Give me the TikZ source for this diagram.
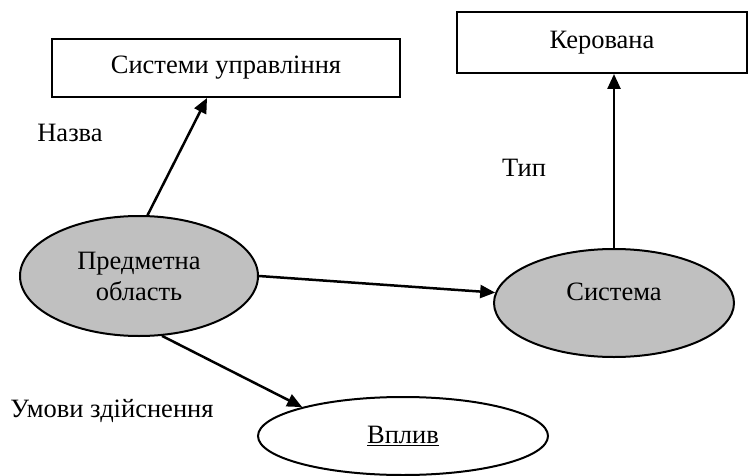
\documentclass[tikz,border=0pt]{standalone}
\usepackage{fontspec}
\setmainfont{Liberation Serif}
\usetikzlibrary{arrows.meta,calc,shapes.geometric}
\definecolor{shade}{RGB}{192,192,192}
\begin{document}
\begin{tikzpicture}[x=1pt,y=-1pt,
  txt/.style={font=\fontsize{26.5}{31}\selectfont},
  box/.style={draw,line width=2pt,inner sep=0pt,txt},
  oval/.style={draw,ellipse,line width=2pt,inner sep=0pt,txt,align=center},
  link/.style={line width=2.5pt,-{Triangle[length=15pt,width=13pt]}},
  lbl/.style={txt,inner sep=0pt}]
\useasboundingbox (0,0) rectangle (749,476);
% boxes
\node[box,minimum width=348pt,minimum height=58pt] (b1) at (226,68) {Системи управління};
\node[box,minimum width=290pt,minimum height=61pt] (b2) at (602,42.5) {Керована};
% ellipses
\node[oval,fill=shade,minimum width=238pt,minimum height=120pt] (e1) at (139,276) {Предметна\\область};
\node[oval,fill=shade,minimum width=240pt,minimum height=108pt] (e2) at (614,303) {};
\node[lbl] (e2t) at (614,292) {Система};
\node[oval,minimum width=290pt,minimum height=78pt] (e3) at (403,436) {\underline{Вплив}};
% connectors
\draw[link] (e1.82) -- ($(b1.south)+(-19,0)$);
\draw[link] (e1.east) -- (e2.175);
\draw[link] (e1.-69) -- (e3.164.5);
\draw[link] (e2.north) -- (e2.north |- b2.south);
% labels
\node[lbl] (n1) at (70,133) {Назва};
\node[lbl] (n2) at (524,168) {Тип};
\node[lbl] (n3) at (112,411) {Умови здійснення};
\end{tikzpicture}
\end{document}
